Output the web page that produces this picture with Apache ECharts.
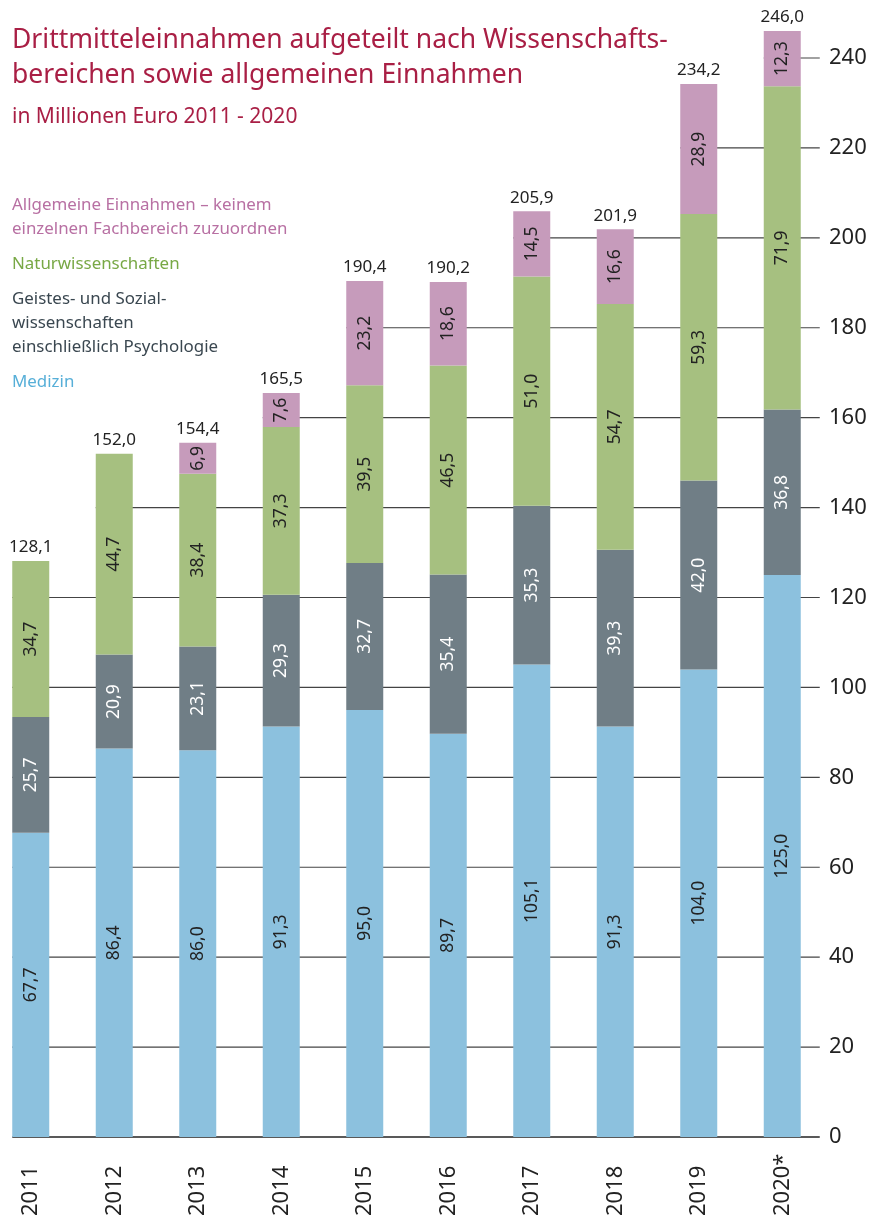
<!DOCTYPE html>
<html>
<head>
<meta charset="utf-8">
<script src="https://cdn.jsdelivr.net/npm/echarts@6/dist/echarts.min.js"></script>
<style>
  html, body { margin: 0; padding: 0; background: #fff; }
  #chart { width: 872px; height: 1219px; }
</style>
</head>
<body>
<div id="chart"></div>
<script>
const years = ['2011', '2012', '2013', '2014', '2015', '2016', '2017', '2018', '2019', '2020*'];
const medizin = [67.7, 86.4, 86.0, 91.3, 95.0, 89.7, 105.1, 91.3, 104.0, 125.0];
const geistes = [25.7, 20.9, 23.1, 29.3, 32.7, 35.4, 35.3, 39.3, 42.0, 36.8];
const natur = [34.7, 44.7, 38.4, 37.3, 39.5, 46.5, 51.0, 54.7, 59.3, 71.9];
const allgemein = [null, null, 6.9, 7.6, 23.2, 18.6, 14.5, 16.6, 28.9, 12.3];
const totals = [128.1, 152.0, 154.4, 165.5, 190.4, 190.2, 205.9, 201.9, 234.2, 246.0];
const yTicks = [0, 20, 40, 60, 80, 100, 120, 140, 160, 180, 200, 220, 240];

const FONT = '"Noto Sans", sans-serif';
const BAR_W = 37;
const fmt = v => v.toFixed(1).replace('.', ',');

const legendText = {
  'Allgemein': 'Allgemeine Einnahmen – keinem\neinzelnen Fachbereich zuzuordnen',
  'Natur': 'Naturwissenschaften',
  'Geistes': 'Geistes- und Sozial-\nwissenschaften\neinschließlich Psychologie',
  'Medizin': 'Medizin'
};

// each gridline starts at the left edge of the first bar that reaches above it
const gridData = yTicks.map(v => {
  let i = totals.findIndex(t => t > v);
  if (i < 0) i = years.length - 1;
  return [i, v];
});

function segLabel(color) {
  return {
    show: true,
    position: 'inside',
    rotate: 90,
    fontFamily: FONT,
    fontSize: 17.5,
    color: color,
    formatter: p => p.value == null ? '' : fmt(p.value)
  };
}

const chart = echarts.init(document.getElementById('chart'));

chart.setOption({
  backgroundColor: '#fff',
  animation: false,
  title: {
    text: 'Drittmitteleinnahmen aufgeteilt nach Wissenschafts-\nbereichen sowie allgemeinen Einnahmen',
    subtext: 'in Millionen Euro 2011 - 2020',
    left: 12,
    top: 23,
    padding: 0,
    itemGap: 11,
    textStyle: { fontFamily: FONT, fontSize: 26.5, lineHeight: 35, fontWeight: 'normal', color: '#a91f45' },
    subtextStyle: { fontFamily: FONT, fontSize: 21, lineHeight: 26, color: '#a91f45' }
  },
  legend: {
    orient: 'vertical',
    left: 12,
    top: 193,
    padding: 0,
    icon: 'none',
    itemWidth: 0,
    itemHeight: 0,
    itemGap: 11,
    selectedMode: false,
    formatter: name => legendText[name],
    textStyle: { fontFamily: FONT, fontSize: 16.9, lineHeight: 24, padding: [0, 0, 0, -5] },
    data: [
      { name: 'Allgemein', textStyle: { color: '#b870a3' } },
      { name: 'Natur', textStyle: { color: '#78a845' } },
      { name: 'Geistes', textStyle: { color: '#3a4750' } },
      { name: 'Medizin', textStyle: { color: '#57afd8' } }
    ]
  },
  grid: { left: -11, right: 48, top: 58, bottom: 82, outerBoundsMode: 'none', containLabel: false },
  xAxis: {
    type: 'category',
    data: years,
    axisLine: { show: false },
    axisTick: { show: false },
    axisLabel: {
      rotate: 90,
      align: 'left',
      verticalAlign: 'middle',
      margin: 79,
      fontFamily: FONT,
      fontSize: 22,
      color: '#222'
    }
  },
  yAxis: {
    type: 'value',
    position: 'right',
    min: 0,
    max: 240,
    interval: 20,
    axisLine: { show: false },
    axisTick: { show: false },
    splitLine: { show: false },
    axisLabel: { margin: 5, fontFamily: FONT, fontSize: 22, color: '#222' }
  },
  series: [
    {
      type: 'custom',
      z: 1,
      silent: true,
      data: gridData,
      encode: { x: 0, y: 1 },
      renderItem: (params, api) => {
        const v = api.value(1);
        const p = api.coord([api.value(0), v]);
        const end = api.coord([years.length - 1, v])[0] + BAR_W / 2 + 19;
        return {
          type: 'line',
          shape: { x1: p[0] - BAR_W / 2, y1: p[1], x2: end, y2: p[1] },
          style: { stroke: v === 0 ? '#222' : '#444', lineWidth: v === 0 ? 1.6 : 1.2 }
        };
      }
    },
    {
      name: 'Medizin', type: 'bar', stack: 'sum', barWidth: BAR_W, clip: false, z: 3,
      data: medizin, itemStyle: { color: '#8cc1de' }, label: segLabel('#222')
    },
    {
      name: 'Geistes', type: 'bar', stack: 'sum', barWidth: BAR_W, clip: false, z: 3,
      data: geistes, itemStyle: { color: '#707e86' }, label: segLabel('#fff')
    },
    {
      name: 'Natur', type: 'bar', stack: 'sum', barWidth: BAR_W, clip: false, z: 3,
      data: natur, itemStyle: { color: '#a6c080' }, label: segLabel('#222')
    },
    {
      name: 'Allgemein', type: 'bar', stack: 'sum', barWidth: BAR_W, clip: false, z: 3,
      data: allgemein, itemStyle: { color: '#c69bbb' }, label: segLabel('#222')
    },
    {
      name: 'Summe', type: 'bar', barWidth: BAR_W, barGap: '-100%', clip: false, z: 2,
      data: totals,
      itemStyle: { color: 'rgba(0,0,0,0)' },
      label: {
        show: true,
        position: 'top',
        distance: 5,
        fontFamily: FONT,
        fontSize: 17,
        color: '#222',
        formatter: p => fmt(p.value)
      }
    }
  ]
});
</script>
</body>
</html>
